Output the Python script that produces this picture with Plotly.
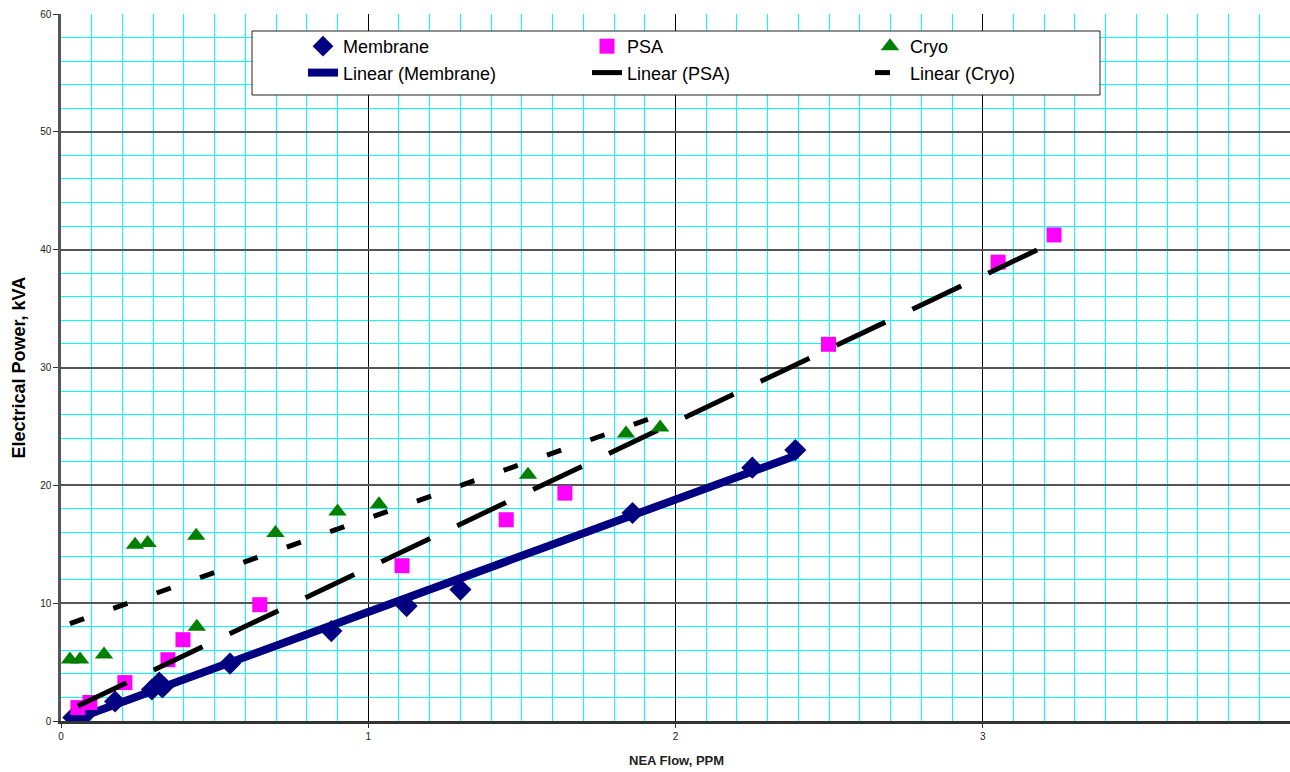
import numpy as np
import plotly.graph_objects as go

# ---- data ----
mem_x = [0.04, 0.08, 0.176, 0.296, 0.32, 0.33, 0.55, 0.88, 1.125, 1.30, 1.86, 2.25, 2.39]
mem_y = [0.3, 0.6, 1.65, 2.67, 3.26, 2.84, 4.87, 7.63, 9.75, 11.15, 17.65, 21.5, 23.0]

psa_x = [0.055, 0.094, 0.208, 0.348, 0.397, 0.647, 1.11, 1.449, 1.64, 2.498, 3.05, 3.232]
psa_y = [1.14, 1.57, 3.26, 5.2, 6.9, 9.87, 13.18, 17.08, 19.34, 31.97, 38.94, 41.25]

cryo_x = [0.029, 0.062, 0.14, 0.241, 0.282, 0.44, 0.442, 0.698, 0.90, 1.035, 1.52, 1.839, 1.95]
cryo_y = [5.21, 5.21, 5.64, 14.96, 15.1, 15.72, 8.0, 15.95, 17.78, 18.4, 20.9, 24.4, 24.9]

x_ticks = [0, 1, 2, 3, 4]
y_ticks = [0, 10, 20, 30, 40, 50, 60]

FONT = "Liberation Sans, Arial, sans-serif"

W, H = 1290, 772
ML, MR, MT, MB = 61, 0, 14, 51
PW, PH = W - ML - MR, H - MT - MB


def px2x(px):
    return (px - ML) / PW


def py2y(py):
    return (H - MB - py) / PH


def trend(xs, ys):
    a, b = np.polyfit(xs, ys, 1)
    xx = np.array([min(xs), max(xs)])
    return xx, a * xx + b


fig = go.Figure()

fig.add_trace(go.Scatter(x=mem_x, y=mem_y, mode="markers", name="Membrane", legend="legend",
                         marker=dict(symbol="diamond", size=17, color="#000080")))
tx, ty = trend(mem_x, mem_y)
fig.add_trace(go.Scatter(x=tx, y=ty, mode="lines", name="Linear (Membrane)", legend="legend",
                         line=dict(color="#000080", width=8)))

fig.add_trace(go.Scatter(x=psa_x, y=psa_y, mode="markers", name="PSA", legend="legend2",
                         marker=dict(symbol="square", size=15, color="#FF00FF")))
tx, ty = trend(psa_x, psa_y)
fig.add_trace(go.Scatter(x=tx, y=ty, mode="lines", name="Linear (PSA)", legend="legend2",
                         line=dict(color="#000000", width=5, dash="54px,30px")))

fig.add_trace(go.Scatter(x=cryo_x, y=cryo_y, mode="markers", name="Cryo", legend="legend3",
                         marker=dict(symbol="triangle-up", size=16, color="#008000")))
tx, ty = trend(cryo_x, cryo_y)
fig.add_trace(go.Scatter(x=tx, y=ty, mode="lines", name="Linear (Cryo)", legend="legend3",
                         line=dict(color="#000000", width=5, dash="15px,31px")))

leg_common = dict(orientation="v", xanchor="left", yanchor="top",
                  bgcolor="rgba(0,0,0,0)", borderwidth=0,
                  font=dict(size=18, family=FONT, color="#000"),
                  traceorder="normal", tracegroupgap=0)

fig.update_layout(
    width=W, height=H,
    margin=dict(l=ML, r=MR, t=MT, b=MB, autoexpand=False),
    paper_bgcolor="white", plot_bgcolor="white",
    font=dict(family=FONT, color="#222"),
    showlegend=True,
    legend=dict(x=px2x(303), y=py2y(28), **leg_common),
    legend2=dict(x=px2x(587), y=py2y(28), **leg_common),
    legend3=dict(x=px2x(870), y=py2y(28), **leg_common),
    shapes=[dict(type="rect", xref="paper", yref="paper",
                 x0=px2x(252), x1=px2x(1100), y0=py2y(95), y1=py2y(31),
                 fillcolor="white", line=dict(color="#222", width=1), layer="above")],
    annotations=[
        dict(text="<b>NEA Flow, PPM</b>", xref="paper", yref="paper",
             x=px2x(676), y=py2y(760), xanchor="center", yanchor="middle",
             showarrow=False, font=dict(size=13, color="#222", family=FONT)),
        dict(text="<b>Electrical Power, kVA</b>", xref="paper", yref="paper",
             x=px2x(18), y=0.5, xanchor="center", yanchor="middle", textangle=-90,
             showarrow=False, font=dict(size=18, color="#000", family=FONT)),
    ],
)

fig.update_xaxes(
    range=[0, 4], tickvals=x_ticks, ticktext=[str(v) for v in x_ticks],
    showgrid=True, gridcolor="#000000", gridwidth=1,
    minor=dict(dtick=0.1, showgrid=True, gridcolor="#00FFFF", gridwidth=1.2),
    showline=True, linecolor="#333", linewidth=2.5,
    ticks="outside", ticklen=4, tickcolor="#333", tickwidth=1,
    tickfont=dict(size=10, color="#222"),
    zeroline=False, automargin=False,
)
fig.update_yaxes(
    range=[0, 60], tickvals=y_ticks, ticktext=[str(v) for v in y_ticks],
    showgrid=True, gridcolor="#555555", gridwidth=1.5,
    minor=dict(dtick=2, showgrid=True, gridcolor="#00FFFF", gridwidth=1.2),
    showline=True, linecolor="#555", linewidth=2.5,
    ticks="outside", ticklen=5, tickcolor="#333", tickwidth=1,
    tickfont=dict(size=10, color="#222"),
    zeroline=False, automargin=False,
)

fig.write_html("out.html",
               config={"displayModeBar": False},
               post_script="document.body.style.margin='0px';"
                           "document.body.style.overflow='hidden';")
